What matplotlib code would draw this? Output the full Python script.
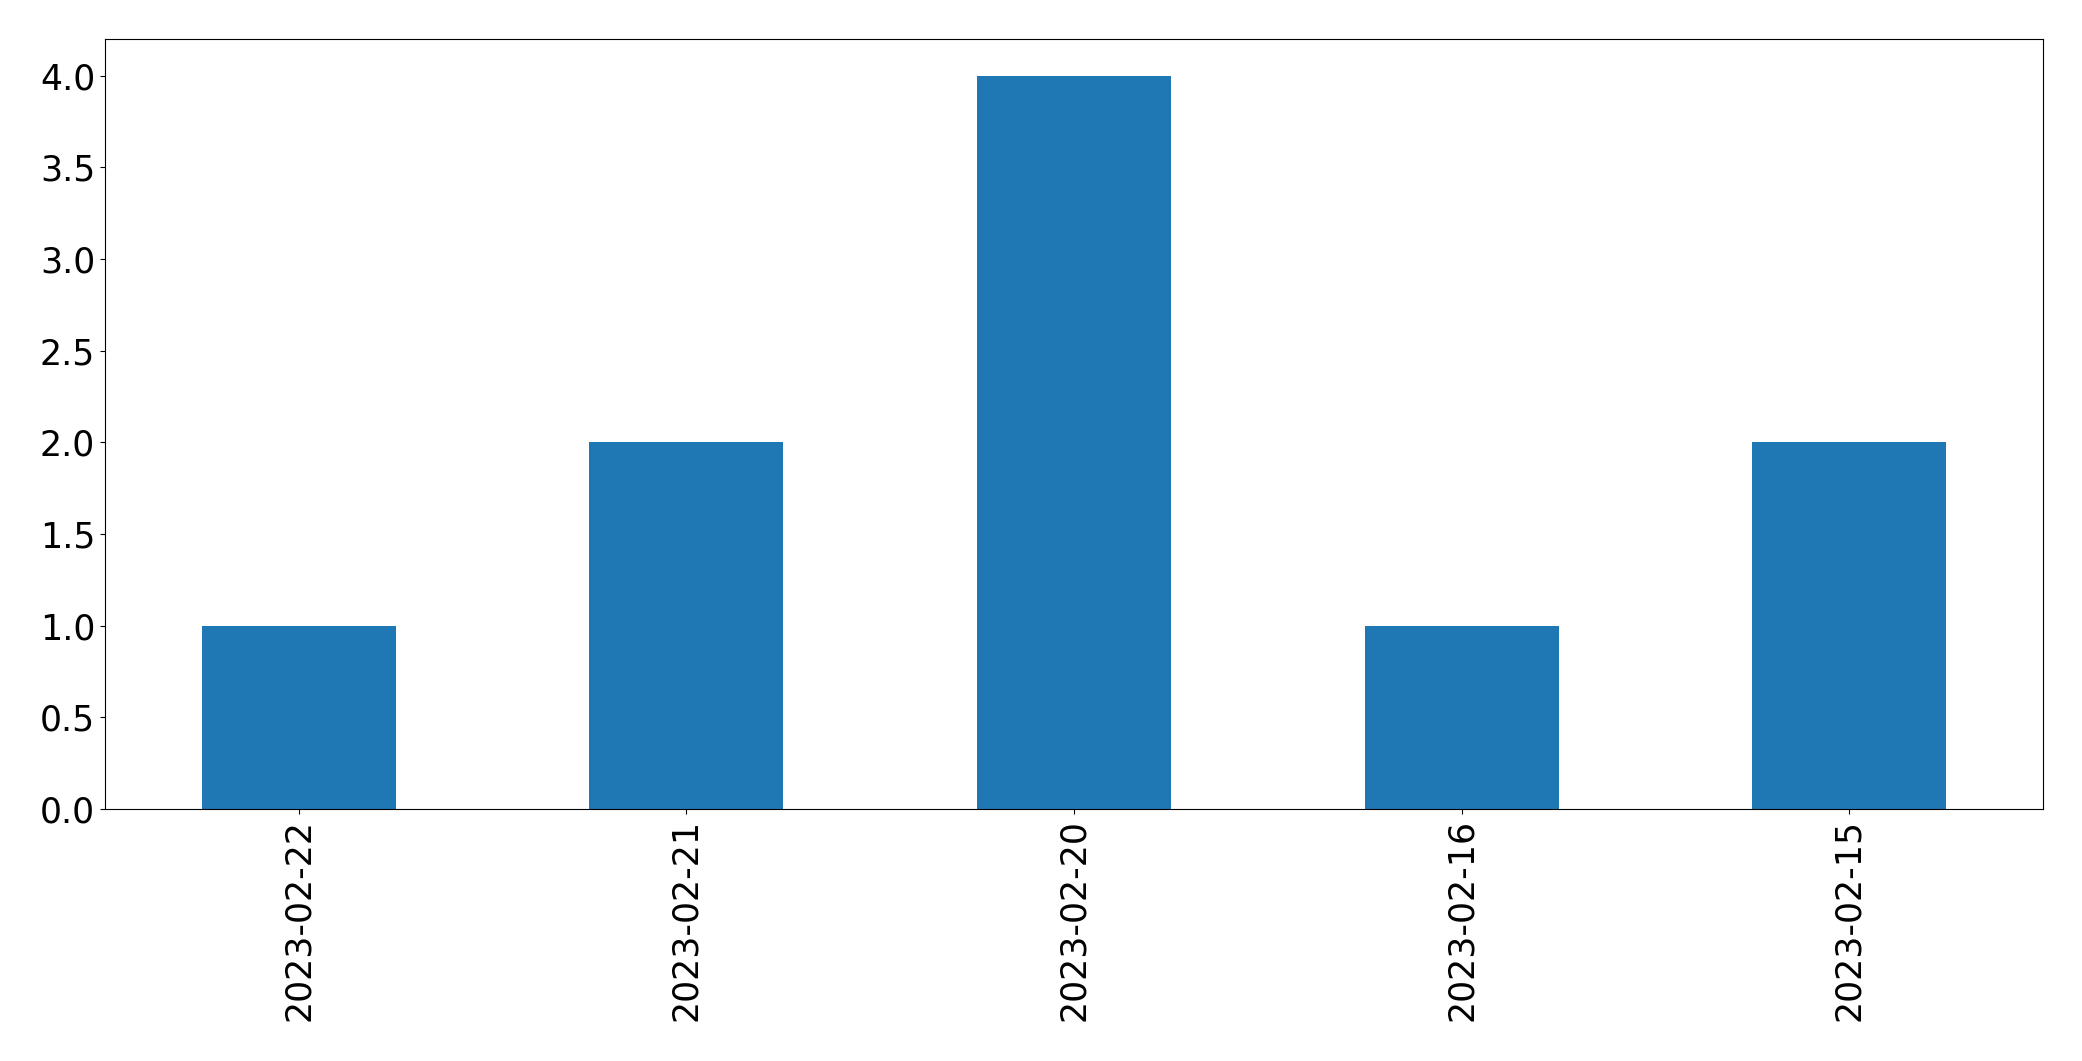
import matplotlib
matplotlib.use("Agg")
import matplotlib.pyplot as plt

# ---------------------------------------------------------------
# Data
# ---------------------------------------------------------------

dates = ["2023-02-22", "2023-02-21", "2023-02-20", "2023-02-16", "2023-02-15"]
counts = [1, 2, 4, 1, 2]

# ---------------------------------------------------------------
# Plot
# ---------------------------------------------------------------

fig = plt.figure(figsize=(20.82, 10.61), dpi=100)
ax = fig.add_axes([0.0504, 0.2375, 0.9309, 0.7257])

ax.bar(range(len(dates)), counts, width=0.5, color="#1f77b4")
ax.set_xticks(range(len(dates)))
ax.set_xticklabels(dates, rotation=90)
ax.set_xlim(-0.5, len(dates) - 0.5)
ax.set_ylim(0, 4.2)
ax.set_yticks([0.0, 0.5, 1.0, 1.5, 2.0, 2.5, 3.0, 3.5, 4.0])
ax.tick_params(labelsize=25)
for spine in ax.spines.values():
    spine.set_color("black")

fig.savefig("out.png", dpi=100)
